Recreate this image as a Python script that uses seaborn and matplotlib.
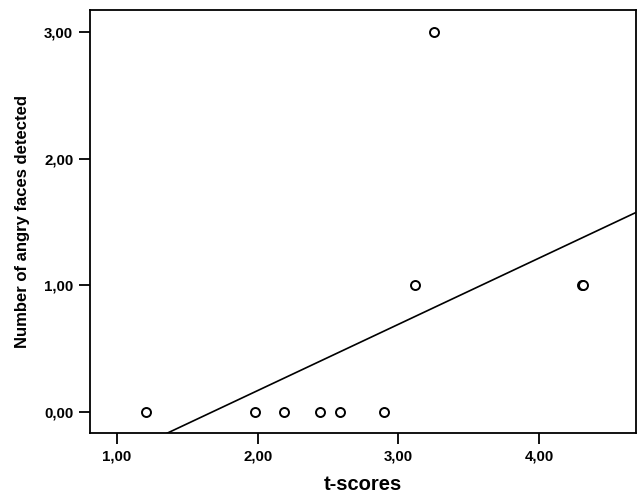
import matplotlib
matplotlib.use("Agg")
import matplotlib.pyplot as plt
import seaborn as sns
import pandas as pd
from matplotlib.ticker import FixedLocator, FuncFormatter

t_scores = [1.21, 1.98, 2.19, 2.445, 2.585, 2.895, 3.115, 3.25, 4.307, 4.312]
angry_faces = [0, 0, 0, 0, 0, 0, 1, 3, 1, 1]
x_ticks = [1, 2, 3, 4]
y_ticks = [0, 1, 2, 3]
x_label = "t-scores"
y_label = "Number of angry faces detected"

df = pd.DataFrame({"t": t_scores, "n": angry_faces})

sns.set_theme(style="ticks")
plt.rcParams["font.family"] = ["Liberation Sans", "DejaVu Sans"]

fig = plt.figure(figsize=(6.37, 4.93), dpi=100)
ax = fig.add_axes([90/637, 60/493, 546/637, 423/493])
ax.set_xlim(0.809, 4.688)
ax.set_ylim(-0.17, 3.176)

sns.regplot(data=df, x="t", y="n", ax=ax, ci=None, truncate=False,
            scatter_kws=dict(s=42, facecolors="white", edgecolors="black", linewidths=1.4,
                             alpha=1, zorder=3),
            line_kws=dict(color="black", linewidth=1.2))

ax.xaxis.set_major_locator(FixedLocator(x_ticks))
ax.yaxis.set_major_locator(FixedLocator(y_ticks))
fmt = FuncFormatter(lambda v, p: f"{v:.2f}".replace(".", ","))
ax.xaxis.set_major_formatter(fmt)
ax.yaxis.set_major_formatter(fmt)
ax.tick_params(axis="both", direction="out", length=8, width=1.3, color="black",
               labelsize=10.8, labelcolor="black", pad=4)
for lbl in ax.get_xticklabels() + ax.get_yticklabels():
    lbl.set_fontweight("bold")
for sp in ax.spines.values():
    sp.set_visible(True)
    sp.set_color("black")
    sp.set_linewidth(1.3)

ax.set_xlabel(x_label, fontsize=14.5, fontweight="bold", color="black", labelpad=8)
ax.set_ylabel(y_label, fontsize=12, fontweight="bold", color="black", labelpad=10)

fig.savefig("out.png", dpi=100, facecolor="white")
